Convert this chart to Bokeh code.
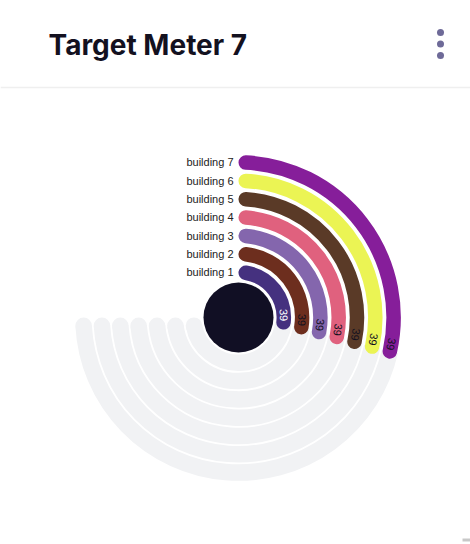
import numpy as np
from bokeh.plotting import figure
from bokeh.models import Range1d, ColumnDataSource
from bokeh.core.properties import value
from bokeh.embed import file_html
from bokeh.resources import INLINE

# ---- data ----
title = "Target Meter 7"
labels = ["building 1", "building 2", "building 3", "building 4",
          "building 5", "building 6", "building 7"]
values = [39, 39, 39, 39, 39, 39, 39]
max_value = 100
colors = ["#45317f", "#6d2e1e", "#8466ad", "#e0617e", "#5a3a27", "#ebf454", "#861e9a"]
value_text_colors = ["#ffffff", "#13111f", "#13111f", "#13111f", "#13111f", "#13111f", "#13111f"]

# ---- geometry (pixels) ----
W, H = 470, 544
CX, CY_PX = 238, 317
CY = H - CY_PX
R1 = 45.3
STEP = 18.3
BAR_W = 14.5
TRACK_W = 16.5
SWEEP = 1.5 * np.pi  # 270 degrees

p = figure(width=W, height=H, output_backend="svg", toolbar_location=None,
           x_range=Range1d(0, W), y_range=Range1d(0, H), min_border=0,
           x_axis_location=None, y_axis_location=None)
p.grid.visible = False
p.outline_line_color = None
p.background_fill_color = "white"
p.border_fill_color = "white"

# header
p.text(x=[48], y=[H - 44], text=[title], text_font=value("Inter"), text_font_size="28px",
       text_font_style="bold", text_color="#13111f", text_baseline="middle", text_align="left")
p.scatter(x=[440, 440, 440], y=[H - 32, H - 43.5, H - 55], size=7, marker="circle",
          fill_color="#6e6a98", line_color=None)
p.segment(x0=[0], y0=[H - 87], x1=[W], y1=[H - 87], line_color="#efefef", line_width=1.5)

radii = [R1 + i * STEP for i in range(len(labels))]

# tracks
tr_x, tr_y, tr_r, tr_s, tr_e = [], [], [], [], []
cap_x, cap_y = [], []
for r, v in zip(radii, values):
    end_vis = np.pi / 2 - v / max_value * SWEEP
    bar_end_c = end_vis + (BAR_W / 2) / r
    left_c = -np.pi + (TRACK_W / 2) / r
    tr_x.append(CX); tr_y.append(CY); tr_r.append(r)
    tr_s.append(bar_end_c); tr_e.append(left_c)
    cap_x.append(CX + r * np.cos(left_c)); cap_y.append(CY + r * np.sin(left_c))
p.arc(x=tr_x, y=tr_y, radius=tr_r, start_angle=tr_s, end_angle=tr_e, direction="clock",
      line_color="#f1f2f4", line_width=TRACK_W, line_cap="butt")
p.circle(x=cap_x, y=cap_y, radius=TRACK_W / 2, fill_color="#f1f2f4", line_color=None)

# bars
b_s, b_e = [], []
for r, v in zip(radii, values):
    end_vis = np.pi / 2 - v / max_value * SWEEP
    b_s.append(np.pi / 2 - (BAR_W / 2) / r)
    b_e.append(end_vis + (BAR_W / 2) / r)
bars = ColumnDataSource(dict(x=[CX] * len(radii), y=[CY] * len(radii), r=radii,
                             s=b_s, e=b_e, c=colors))
p.arc(x="x", y="y", radius="r", start_angle="s", end_angle="e", direction="clock",
      line_color="c", line_width=BAR_W, line_cap="round", source=bars)

# center disc
p.circle(x=[CX], y=[CY], radius=35, fill_color="#110f24", line_color=None)

# labels
p.text(x=[233] * len(labels), y=[CY + r for r in radii], text=labels,
       text_font=value("Liberation Sans"), text_font_size="11px", text_color="#222222",
       text_align="right", text_baseline="middle")

# value texts
vt_x, vt_y, vt_a = [], [], []
for r, v in zip(radii, values):
    end_vis = np.pi / 2 - v / max_value * SWEEP
    th = end_vis + 14.5 / r
    vt_x.append(CX + r * np.cos(th)); vt_y.append(CY + r * np.sin(th)); vt_a.append(th - np.pi / 2)
vt = ColumnDataSource(dict(x=vt_x, y=vt_y, a=vt_a, t=[str(v) for v in values], c=value_text_colors))
p.text(x="x", y="y", text="t", angle="a", text_color="c", source=vt,
       text_font=value("Liberation Sans"), text_font_size="11px",
       text_align="center", text_baseline="middle")

# tiny scrollbar mark bottom-right
p.quad(left=[462], right=[470], bottom=[H - 541], top=[H - 538], fill_color="#c8c8c8", line_color=None)

open("out.html", "w").write(file_html(p, INLINE))
